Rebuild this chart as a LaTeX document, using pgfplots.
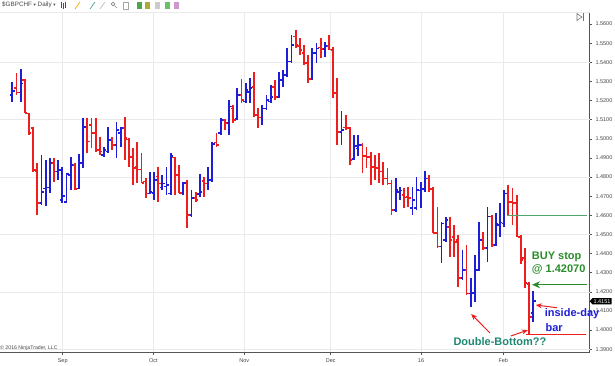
\documentclass[border=0pt]{standalone}
\usepackage{fontspec}
\setmainfont{Liberation Sans}
\newfontfamily\dejavu{DejaVu Sans}
\usepackage{pgfplots}
\pgfplotsset{compat=1.18}
\usepackage{pgfplotstable}
\usetikzlibrary{shapes.symbols,arrows.meta}

\definecolor{upc}{RGB}{30,30,215}
\definecolor{dnc}{RGB}{238,30,30}
\definecolor{gridc}{RGB}{234,234,234}
\definecolor{axc}{RGB}{85,85,85}
\definecolor{lblc}{RGB}{70,70,70}
\definecolor{buyc}{RGB}{40,140,40}
\definecolor{lgreen}{RGB}{80,165,110}
\definecolor{dbc}{RGB}{30,135,115}

\pgfdeclareplotmark{otick}{\pgfpathmoveto{\pgfqpoint{-2.5pt}{0pt}}\pgfpathlineto{\pgfqpoint{0pt}{0pt}}\pgfusepathqstroke}
\pgfdeclareplotmark{ctick}{\pgfpathmoveto{\pgfqpoint{0pt}{0pt}}\pgfpathlineto{\pgfqpoint{2.5pt}{0pt}}\pgfusepathqstroke}

% up bars (close above open)
\pgfplotstableread{
i o h l c
1 1.5229 1.5298 1.5194 1.5251
3 1.5241 1.5365 1.5194 1.5290
8 1.4663 1.4915 1.4654 1.4723
9 1.4741 1.4889 1.4649 1.4746
10 1.4746 1.4898 1.4715 1.4872
12 1.4828 1.4889 1.4785 1.4837
13 1.4680 1.4854 1.4663 1.4701
14 1.4671 1.4820 1.4663 1.4816
15 1.4811 1.4906 1.4732 1.4863
17 1.4741 1.4920 1.4736 1.4872
18 1.4872 1.5107 1.4846 1.5063
23 1.4915 1.4959 1.4906 1.4941
24 1.4933 1.5063 1.4924 1.4994
26 1.4968 1.5089 1.4898 1.5046
27 1.5029 1.5063 1.4959 1.5055
34 1.4715 1.4828 1.4710 1.4723
35 1.4718 1.4828 1.4680 1.4785
37 1.4746 1.4811 1.4732 1.4767
38 1.4750 1.4854 1.4706 1.4758
39 1.4715 1.4924 1.4706 1.4910
42 1.4718 1.4776 1.4706 1.4770
44 1.4602 1.4732 1.4593 1.4689
46 1.4711 1.4816 1.4697 1.4723
48 1.4767 1.4854 1.4732 1.4785
49 1.4785 1.4985 1.4776 1.4973
51 1.5029 1.5107 1.5020 1.5098
53 1.5081 1.5203 1.5020 1.5168
55 1.5107 1.5264 1.5100 1.5229
57 1.5194 1.5290 1.5186 1.5255
58 1.5246 1.5316 1.5186 1.5264
61 1.5112 1.5177 1.5072 1.5159
62 1.5159 1.5229 1.5151 1.5203
63 1.5194 1.5281 1.5186 1.5220
65 1.5220 1.5351 1.5218 1.5307
66 1.5307 1.5360 1.5272 1.5333
67 1.5333 1.5473 1.5325 1.5403
68 1.5403 1.5543 1.5400 1.5490
73 1.5316 1.5473 1.5307 1.5447
74 1.5447 1.5499 1.5395 1.5473
76 1.5468 1.5508 1.5429 1.5485
80 1.5037 1.5147 1.4968 1.5046
83 1.4893 1.5020 1.4889 1.4962
84 1.4950 1.5020 1.4910 1.4968
93 1.4628 1.4793 1.4619 1.4732
94 1.4723 1.4750 1.4680 1.4729
97 1.4637 1.4750 1.4602 1.4680
98 1.4637 1.4802 1.4628 1.4732
99 1.4729 1.4776 1.4637 1.4736
100 1.4736 1.4833 1.4723 1.4793
104 1.4436 1.4567 1.4349 1.4558
105 1.4471 1.4593 1.4462 1.4576
109 1.4271 1.4419 1.4262 1.4314
111 1.4192 1.4271 1.4122 1.4195
112 1.4195 1.4393 1.4148 1.4314
113 1.4314 1.4567 1.4310 1.4471
115 1.4428 1.4645 1.4358 1.4593
117 1.4445 1.4611 1.4440 1.4558
118 1.4549 1.4663 1.4488 1.4562
119 1.4558 1.4732 1.4540 1.4715
126 1.4089 1.4205 1.4042 1.4151
}\upbars

% down bars (close below open)
\pgfplotstableread{
i o h l c
2 1.5264 1.5342 1.5229 1.5241
4 1.5307 1.5313 1.5133 1.5136
5 1.5133 1.5136 1.5020 1.5029
6 1.5055 1.5063 1.4828 1.4837
7 1.4828 1.4872 1.4602 1.4663
11 1.4872 1.4898 1.4776 1.4828
16 1.4863 1.4872 1.4732 1.4736
19 1.5063 1.5107 1.4924 1.4985
20 1.5072 1.5107 1.4950 1.5029
21 1.5029 1.5107 1.4933 1.4941
22 1.4941 1.5011 1.4915 1.4933
25 1.4994 1.5011 1.4941 1.4968
28 1.5055 1.5115 1.4889 1.5003
29 1.4997 1.5003 1.4854 1.4906
30 1.4906 1.4950 1.4758 1.4846
31 1.4854 1.4985 1.4767 1.4840
32 1.4840 1.4924 1.4767 1.4770
33 1.4776 1.4793 1.4689 1.4715
36 1.4802 1.4854 1.4671 1.4767
40 1.4903 1.4906 1.4706 1.4811
41 1.4811 1.4863 1.4715 1.4718
43 1.4770 1.4785 1.4532 1.4602
45 1.4689 1.4723 1.4671 1.4680
47 1.4779 1.4802 1.4697 1.4767
50 1.4980 1.5029 1.4959 1.4968
52 1.5098 1.5102 1.5046 1.5081
54 1.5159 1.5177 1.5081 1.5098
56 1.5229 1.5311 1.5186 1.5203
59 1.5272 1.5351 1.5115 1.5124
60 1.5124 1.5159 1.5055 1.5112
64 1.5272 1.5307 1.5203 1.5217
69 1.5534 1.5569 1.5473 1.5490
70 1.5485 1.5525 1.5438 1.5464
71 1.5447 1.5490 1.5386 1.5395
72 1.5395 1.5438 1.5290 1.5311
75 1.5478 1.5525 1.5421 1.5468
77 1.5485 1.5543 1.5464 1.5466
78 1.5464 1.5481 1.5212 1.5238
79 1.5238 1.5316 1.4968 1.5037
81 1.5060 1.5124 1.5046 1.5055
82 1.5055 1.5063 1.4863 1.4889
85 1.4968 1.4976 1.4820 1.4910
86 1.4910 1.4959 1.4846 1.4906
87 1.4906 1.4933 1.4758 1.4854
88 1.4854 1.4915 1.4785 1.4846
89 1.4846 1.4924 1.4767 1.4828
90 1.4828 1.4880 1.4758 1.4793
91 1.4793 1.4846 1.4758 1.4767
92 1.4767 1.4785 1.4602 1.4628
95 1.4706 1.4741 1.4637 1.4694
96 1.4697 1.4750 1.4645 1.4689
101 1.4793 1.4811 1.4723 1.4736
102 1.4736 1.4746 1.4506 1.4509
103 1.4509 1.4645 1.4428 1.4436
106 1.4540 1.4593 1.4384 1.4471
107 1.4488 1.4549 1.4384 1.4462
108 1.4471 1.4497 1.4227 1.4271
110 1.4314 1.4445 1.4183 1.4192
114 1.4471 1.4514 1.4419 1.4428
116 1.4593 1.4602 1.4436 1.4445
120 1.4715 1.4758 1.4602 1.4671
121 1.4671 1.4741 1.4549 1.4663
122 1.4663 1.4706 1.4488 1.4490
123 1.4488 1.4497 1.4345 1.4366
124 1.4377 1.4429 1.4220 1.4246
125 1.4241 1.4251 1.3980 1.4068
}\dnbars

\begin{document}
\begin{tikzpicture}
\path[use as bounding box] (0pt,0pt) rectangle (615pt,365pt);
% toolbar
\node[anchor=west, inner sep=0pt, text=lblc, font=\fontsize{6.3}{7}\selectfont] at (2pt,360pt) {\$GBPCHF {\dejavu\fontsize{4.5}{5}\selectfont ▾} Daily {\dejavu\fontsize{4.5}{5}\selectfont ▾}};
\begin{scope}[line width=0.7pt]
\draw[black!70] (61pt,357pt) -- (61pt,363pt) (63pt,356pt) -- (63pt,362pt) (65pt,357pt) -- (65pt,363pt);
\draw[orange!70!yellow] (75pt,356pt) -- (80pt,363pt);
\draw[teal!70] (90pt,356pt) -- (95pt,363pt);
\draw[black!25] (100pt,356pt) -- (105pt,363pt);
\draw[black!45] (113pt,361pt) circle (1.8pt) (114.5pt,359.5pt) -- (117pt,357pt);
\draw[black!35] (123pt,356pt) rectangle (128pt,363pt);
\fill[green!50!black!70] (137pt,356pt) rectangle (142pt,363pt);
\fill[olive!70] (145pt,356pt) rectangle (150pt,363pt);
\fill[black!20] (155pt,356pt) rectangle (160pt,363pt);
\fill[green!60!black!60] (165pt,356pt) rectangle (170pt,363pt);
\fill[violet!40] (174pt,356pt) rectangle (179pt,363pt);
\end{scope}
\begin{axis}[
  at={(0pt,12.7pt)}, anchor=south west,
  scale only axis, width=589.5pt, height=339.6pt,
  xmin=-1.95, xmax=139.49, ymin=1.38839, ymax=1.56591,
  clip=false,
  axis x line*=bottom, axis y line*=right,
  axis line style={axc, line width=0.6pt},
  xtick={13.09,34.83,56.66,77.39,99.06,118.8},
  xticklabels={Sep,Oct,Nov,Dec,16,Feb},
  ytick={1.39,1.40,1.41,1.42,1.43,1.44,1.45,1.46,1.47,1.48,1.49,1.50,1.51,1.52,1.53,1.54,1.55,1.56},
  scaled y ticks=false,
  /pgf/number format/assume math mode=true,
  y tick label style={/pgf/number format/.cd, fixed, fixed zerofill, precision=4, /tikz/.cd},
  tick label style={font=\fontsize{5.5}{6}\selectfont, text=lblc},
  tick align=outside, major tick length=2.5pt,
  tick style={axc, line width=0.5pt},
  xmajorgrids, grid style={gridc, line width=0.6pt},
  extra y ticks={1.39,1.42,1.45,1.48,1.51,1.54},
  extra y tick labels={},
  extra y tick style={ymajorgrids=true, major tick length=0pt},
]
\draw[gridc, line width=0.6pt] (rel axis cs:0,1) -- (rel axis cs:1,1);

% high-low ranges as error bars around the open, open tick as mark
\addplot[color=upc, draw=upc, only marks, mark=otick, mark options={color=upc, line width=1.6pt},
  error bars/.cd, y dir=both, y explicit, error mark=none,
  error bar style={color=upc, draw=upc, solid, line width=1.8pt}]
  table[x=i, y=o, y error plus expr=\thisrow{h}-\thisrow{o}, y error minus expr=\thisrow{o}-\thisrow{l}] {\upbars};
\addplot[color=dnc, draw=dnc, only marks, mark=otick, mark options={color=dnc, line width=1.6pt},
  error bars/.cd, y dir=both, y explicit, error mark=none,
  error bar style={color=dnc, draw=dnc, solid, line width=1.8pt}]
  table[x=i, y=o, y error plus expr=\thisrow{h}-\thisrow{o}, y error minus expr=\thisrow{o}-\thisrow{l}] {\dnbars};
% close ticks
\addplot[color=upc, only marks, mark=ctick, mark options={color=upc, line width=1.6pt}] table[x=i, y=c] {\upbars};
\addplot[color=dnc, only marks, mark=ctick, mark options={color=dnc, line width=1.6pt}] table[x=i, y=c] {\dnbars};

% annotations
\draw[lgreen, line width=1.2pt] (axis cs:119.7,1.4600) -- (axis cs:138.9,1.4600);
\draw[buyc, line width=1.2pt, -{Stealth[length=8pt,width=7pt]}] (axis cs:139.0,1.4237) -- (axis cs:125.7,1.4237);
\draw[dnc, line width=1.2pt] (axis cs:124.2,1.3978) -- (axis cs:138.6,1.3978);
\draw[dnc, line width=1pt, -{Stealth[length=6pt,width=5pt]}] (axis cs:131.7,1.4117) -- (axis cs:126.6,1.4131);
\draw[dnc, line width=1pt, -{Stealth[length=6pt,width=5pt]}] (axis cs:115.6,1.3985) -- (axis cs:111.1,1.4084);
\draw[dnc, line width=1pt, -{Stealth[length=6pt,width=5pt]}] (axis cs:120.6,1.3969) -- (axis cs:124.7,1.4000);

\node[buyc, font=\bfseries\fontsize{11}{12}\selectfont, inner sep=0pt] at (axis cs:131.6,1.4384) {BUY stop};
\node[buyc, font=\bfseries\fontsize{11}{12}\selectfont, inner sep=0pt] at (axis cs:132.1,1.4318) {@ 1.42070};
\node[upc, font=\bfseries\fontsize{11}{12}\selectfont, inner sep=0pt] at (axis cs:135.3,1.4084) {inside-day};
\node[upc, font=\bfseries\fontsize{11}{12}\selectfont, inner sep=0pt] at (axis cs:131.0,1.4014) {bar};
\node[dbc, font=\bfseries\fontsize{11}{12}\selectfont, inner sep=0pt] at (axis cs:118.0,1.3938) {Double-Bottom??};

\node[anchor=west, inner sep=0pt, text=lblc, font=\fontsize{5.2}{6}\selectfont] at (axis cs:-1.95,1.3903) {© 2016 NinjaTrader, LLC};

\node[signal, signal to=west, signal pointer angle=100, fill=black, text=white, anchor=west,
  font=\fontsize{5.5}{6}\selectfont, inner xsep=1.2pt, inner ysep=1.2pt] at (axis cs:139.49,1.4151) {1.4151};
\end{axis}
% scroll-to-end icon
\draw[black!55, line width=0.6pt] (577pt,344.6pt) -- (577pt,351.4pt) -- (582pt,348pt) -- cycle;
\draw[black!55, line width=0.7pt] (583.5pt,344.3pt) -- (583.5pt,351.7pt);
\end{tikzpicture}
\end{document}
